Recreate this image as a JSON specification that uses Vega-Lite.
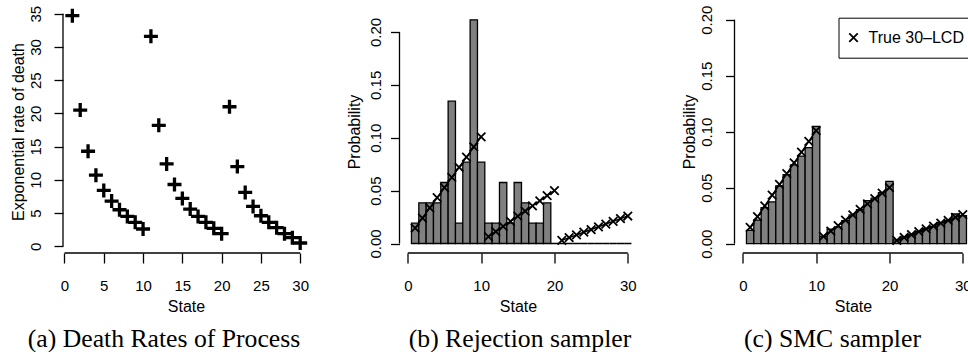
{
  "$schema": "https://vega.github.io/schema/vega-lite/v6.json",
  "background": "white",
  "padding": {"left": 9, "top": 2, "right": 0, "bottom": 0},
  "config": {
    "view": {"stroke": null},
    "axis": {"domain": false, "grid": false, "ticks": true, "tickColor": "black", "tickWidth": 1.3, "labelOverlap": false,
      "labelFont": "Liberation Sans", "labelFontSize": 15, "labelColor": "black",
      "titleFont": "Liberation Sans", "titleFontSize": 16, "titleFontWeight": "normal", "titleColor": "black"},
    "axisX": {"tickSize": 10, "labelPadding": 27.5, "labelBaseline": "alphabetic", "labelAngle": 0, "labelAlign": "center", "titleBaseline": "alphabetic", "titleY": 58},
    "axisY": {"tickSize": 9, "labelPadding": 12, "labelAngle": 270, "labelAlign": "center", "labelBaseline": "alphabetic", "titleAngle": 270, "titleBaseline": "alphabetic", "titleAlign": "center", "titleX": -40},
    "title": {"orient": "bottom", "frame": "group", "anchor": "middle", "font": "Liberation Serif", "fontSize": 25.7, "fontWeight": "normal", "color": "black", "baseline": "top", "offset": 13},
    "legend": {"labelFont": "Liberation Sans", "labelFontSize": 16, "labelColor": "black"}
  },
  "datasets": {
    "rates": [
      {"state": 1, "rate": 34.7}, {"state": 2, "rate": 20.5}, {"state": 3, "rate": 14.3}, {"state": 4, "rate": 10.7}, {"state": 5, "rate": 8.4},
      {"state": 6, "rate": 6.8}, {"state": 7, "rate": 5.5}, {"state": 8, "rate": 4.5}, {"state": 9, "rate": 3.6}, {"state": 10, "rate": 2.6},
      {"state": 11, "rate": 31.6}, {"state": 12, "rate": 18.2}, {"state": 13, "rate": 12.4}, {"state": 14, "rate": 9.3}, {"state": 15, "rate": 7.2},
      {"state": 16, "rate": 5.6}, {"state": 17, "rate": 4.5}, {"state": 18, "rate": 3.6}, {"state": 19, "rate": 2.7}, {"state": 20, "rate": 1.9},
      {"state": 21, "rate": 21.0}, {"state": 22, "rate": 12.0}, {"state": 23, "rate": 8.1}, {"state": 24, "rate": 6.0}, {"state": 25, "rate": 4.6},
      {"state": 26, "rate": 3.6}, {"state": 27, "rate": 2.8}, {"state": 28, "rate": 1.9}, {"state": 29, "rate": 1.3}, {"state": 30, "rate": 0.5}
    ],
    "reject": [
      {"state": 1, "lo": 0.5, "hi": 1.5, "p": 0.0192}, {"state": 2, "lo": 1.5, "hi": 2.5, "p": 0.0385}, {"state": 3, "lo": 2.5, "hi": 3.5, "p": 0.0385},
      {"state": 4, "lo": 3.5, "hi": 4.5, "p": 0.0385}, {"state": 5, "lo": 4.5, "hi": 5.5, "p": 0.0577}, {"state": 6, "lo": 5.5, "hi": 6.5, "p": 0.1346},
      {"state": 7, "lo": 6.5, "hi": 7.5, "p": 0.0192}, {"state": 8, "lo": 7.5, "hi": 8.5, "p": 0.0769}, {"state": 9, "lo": 8.5, "hi": 9.5, "p": 0.2115},
      {"state": 10, "lo": 9.5, "hi": 10.5, "p": 0.0769}, {"state": 11, "lo": 10.5, "hi": 11.5, "p": 0.0192}, {"state": 12, "lo": 11.5, "hi": 12.5, "p": 0.0192},
      {"state": 13, "lo": 12.5, "hi": 13.5, "p": 0.0577}, {"state": 14, "lo": 13.5, "hi": 14.5, "p": 0.0192}, {"state": 15, "lo": 14.5, "hi": 15.5, "p": 0.0577},
      {"state": 16, "lo": 15.5, "hi": 16.5, "p": 0.0385}, {"state": 17, "lo": 16.5, "hi": 17.5, "p": 0.0192}, {"state": 18, "lo": 17.5, "hi": 18.5, "p": 0.0192},
      {"state": 19, "lo": 18.5, "hi": 19.5, "p": 0.0385}, {"state": 20, "lo": 19.5, "hi": 20.5, "p": 0}, {"state": 21, "lo": 20.5, "hi": 21.5, "p": 0},
      {"state": 22, "lo": 21.5, "hi": 22.5, "p": 0}, {"state": 23, "lo": 22.5, "hi": 23.5, "p": 0}, {"state": 24, "lo": 23.5, "hi": 24.5, "p": 0},
      {"state": 25, "lo": 24.5, "hi": 25.5, "p": 0}, {"state": 26, "lo": 25.5, "hi": 26.5, "p": 0}, {"state": 27, "lo": 26.5, "hi": 27.5, "p": 0},
      {"state": 28, "lo": 27.5, "hi": 28.5, "p": 0}, {"state": 29, "lo": 28.5, "hi": 29.5, "p": 0}, {"state": 30, "lo": 29.5, "hi": 30.5, "p": 0}
    ],
    "smc": [
      {"state": 1, "lo": 0.5, "hi": 1.5, "p": 0.0119}, {"state": 2, "lo": 1.5, "hi": 2.5, "p": 0.0211}, {"state": 3, "lo": 2.5, "hi": 3.5, "p": 0.0322},
      {"state": 4, "lo": 3.5, "hi": 4.5, "p": 0.0373}, {"state": 5, "lo": 4.5, "hi": 5.5, "p": 0.0515}, {"state": 6, "lo": 5.5, "hi": 6.5, "p": 0.0616},
      {"state": 7, "lo": 6.5, "hi": 7.5, "p": 0.0704}, {"state": 8, "lo": 7.5, "hi": 8.5, "p": 0.0782}, {"state": 9, "lo": 8.5, "hi": 9.5, "p": 0.0858},
      {"state": 10, "lo": 9.5, "hi": 10.5, "p": 0.1047}, {"state": 11, "lo": 10.5, "hi": 11.5, "p": 0.0065}, {"state": 12, "lo": 11.5, "hi": 12.5, "p": 0.013},
      {"state": 13, "lo": 12.5, "hi": 13.5, "p": 0.015}, {"state": 14, "lo": 13.5, "hi": 14.5, "p": 0.0206}, {"state": 15, "lo": 14.5, "hi": 15.5, "p": 0.0258},
      {"state": 16, "lo": 15.5, "hi": 16.5, "p": 0.0303}, {"state": 17, "lo": 16.5, "hi": 17.5, "p": 0.0385}, {"state": 18, "lo": 17.5, "hi": 18.5, "p": 0.0407},
      {"state": 19, "lo": 18.5, "hi": 19.5, "p": 0.0455}, {"state": 20, "lo": 19.5, "hi": 20.5, "p": 0.0556}, {"state": 21, "lo": 20.5, "hi": 21.5, "p": 0.0035},
      {"state": 22, "lo": 21.5, "hi": 22.5, "p": 0.006}, {"state": 23, "lo": 22.5, "hi": 23.5, "p": 0.008}, {"state": 24, "lo": 23.5, "hi": 24.5, "p": 0.011},
      {"state": 25, "lo": 24.5, "hi": 25.5, "p": 0.0134}, {"state": 26, "lo": 25.5, "hi": 26.5, "p": 0.0152}, {"state": 27, "lo": 26.5, "hi": 27.5, "p": 0.0188},
      {"state": 28, "lo": 27.5, "hi": 28.5, "p": 0.0205}, {"state": 29, "lo": 28.5, "hi": 29.5, "p": 0.0265}, {"state": 30, "lo": 29.5, "hi": 30.5, "p": 0.025}
    ],
    "lcd": [
      {"state": 1, "grp": 1, "p": 0.0145}, {"state": 2, "grp": 1, "p": 0.0241}, {"state": 3, "grp": 1, "p": 0.0337}, {"state": 4, "grp": 1, "p": 0.0433},
      {"state": 5, "grp": 1, "p": 0.0529}, {"state": 6, "grp": 1, "p": 0.0625}, {"state": 7, "grp": 1, "p": 0.0721}, {"state": 8, "grp": 1, "p": 0.0817},
      {"state": 9, "grp": 1, "p": 0.0913}, {"state": 10, "grp": 1, "p": 0.1009},
      {"state": 11, "grp": 2, "p": 0.0065}, {"state": 12, "grp": 2, "p": 0.0113}, {"state": 13, "grp": 2, "p": 0.0162}, {"state": 14, "grp": 2, "p": 0.021},
      {"state": 15, "grp": 2, "p": 0.0258}, {"state": 16, "grp": 2, "p": 0.0307}, {"state": 17, "grp": 2, "p": 0.0355}, {"state": 18, "grp": 2, "p": 0.0403},
      {"state": 19, "grp": 2, "p": 0.0452}, {"state": 20, "grp": 2, "p": 0.05},
      {"state": 21, "grp": 3, "p": 0.003}, {"state": 22, "grp": 3, "p": 0.0056}, {"state": 23, "grp": 3, "p": 0.0081}, {"state": 24, "grp": 3, "p": 0.0107},
      {"state": 25, "grp": 3, "p": 0.0132}, {"state": 26, "grp": 3, "p": 0.0158}, {"state": 27, "grp": 3, "p": 0.0184}, {"state": 28, "grp": 3, "p": 0.0209},
      {"state": 29, "grp": 3, "p": 0.0235}, {"state": 30, "grp": 3, "p": 0.026}
    ]
  },
  "bounds": "flush",
  "spacing": 90.5,
  "hconcat": [
    {
      "width": 246, "height": 243,
      "title": {"text": "(a) Death Rates of Process", "dx": -22},
      "layer": [
        {
          "data": {"name": "rates"},
          "mark": {"type": "point", "shape": "M-1,0L1,0M0,-1L0,1", "filled": false, "size": 196, "strokeWidth": 3.3, "color": "black", "opacity": 1, "strokeCap": "butt"},
          "encoding": {
            "x": {"field": "state", "type": "quantitative", "scale": {"domain": [-0.19, 31.12], "nice": false, "zero": false}, "axis": {"values": [0, 5, 10, 15, 20, 25, 30], "title": "State"}},
            "y": {"field": "rate", "type": "quantitative", "scale": {"domain": [-1.008, 35.555], "nice": false, "zero": false}, "axis": {"values": [0, 5, 10, 15, 20, 25, 30, 35], "title": "Exponential rate of death", "labelPadding": 14, "labelOverlap": false}}
          }
        },
        {
          "data": {"values": [{}]},
          "mark": {"type": "rule", "color": "black", "strokeWidth": 1.3},
          "encoding": {
            "x": {"datum": 0, "axis": {"values": [0, 5, 10, 15, 20, 25, 30], "title": "State"}},
            "x2": {"datum": 30},
            "y": {"datum": -1.008, "axis": {"values": [0, 5, 10, 15, 20, 25, 30, 35], "title": "Exponential rate of death", "labelPadding": 14, "labelOverlap": false}}
          }
        },
        {
          "data": {"values": [{}]},
          "mark": {"type": "rule", "color": "black", "strokeWidth": 1.3},
          "encoding": {
            "x": {"datum": -0.19, "axis": {"values": [0, 5, 10, 15, 20, 25, 30], "title": "State"}},
            "y": {"datum": 0, "axis": {"values": [0, 5, 10, 15, 20, 25, 30, 35], "title": "Exponential rate of death", "labelPadding": 14, "labelOverlap": false}},
            "y2": {"datum": 35}
          }
        }
      ]
    },
    {
      "bounds": "flush",
      "spacing": 98,
      "hconcat": [
        {
          "width": 237, "height": 243,
          "title": {"text": "(b) Rejection sampler", "dx": 2},
          "layer": [
            {
              "data": {"name": "reject"},
              "mark": {"type": "bar", "fill": "#808080", "stroke": "black", "strokeWidth": 1.3, "fillOpacity": 1},
              "encoding": {
                "x": {"field": "lo", "type": "quantitative", "scale": {"domain": [-1.132, 31.186], "nice": false, "zero": false}, "axis": {"values": [0, 5, 10, 15, 20, 25, 30], "title": "State"}},
                "x2": {"field": "hi"},
                "y": {"field": "p", "type": "quantitative", "scale": {"domain": [-0.00898, 0.2208], "nice": false, "zero": false}, "axis": {"values": [0, 0.05, 0.1, 0.15, 0.2], "format": ".2f", "title": "Probability", "labelPadding": 10}},
                "y2": {"datum": 0}
              }
            },
            {
              "data": {"name": "lcd"},
              "mark": {"type": "line", "color": "black", "strokeWidth": 1.5},
              "encoding": {"x": {"field": "state", "type": "quantitative"}, "y": {"field": "p", "type": "quantitative"}, "detail": {"field": "grp"}}
            },
            {
              "data": {"name": "lcd"},
              "mark": {"type": "point", "shape": "M-1,-1L1,1M-1,1L1,-1", "filled": false, "size": 72, "strokeWidth": 1.8, "color": "black", "opacity": 1},
              "encoding": {"x": {"field": "state", "type": "quantitative"}, "y": {"field": "p", "type": "quantitative"}}
            },
            {
              "data": {"values": [{}]},
              "mark": {"type": "rule", "color": "black", "strokeWidth": 1.3},
              "encoding": {"x": {"datum": 0}, "x2": {"datum": 30}, "y": {"datum": -0.00898}}
            },
            {
              "data": {"values": [{}]},
              "mark": {"type": "rule", "color": "black", "strokeWidth": 1.3},
              "encoding": {"x": {"datum": -1.132}, "y": {"datum": 0}, "y2": {"datum": 0.2}}
            }
          ]
        },
        {
          "width": 237, "height": 243,
          "title": {"text": "(c) SMC sampler", "dx": -20.5},
          "layer": [
            {
              "data": {"name": "smc"},
              "mark": {"type": "bar", "fill": "#808080", "stroke": "black", "strokeWidth": 1.3, "fillOpacity": 1},
              "encoding": {
                "x": {"field": "lo", "type": "quantitative", "scale": {"domain": [-1.132, 31.186], "nice": false, "zero": false}, "axis": {"values": [0, 5, 10, 15, 20, 25, 30], "title": "State"}},
                "x2": {"field": "hi"},
                "y": {"field": "p", "type": "quantitative", "scale": {"domain": [-0.0083, 0.20866], "nice": false, "zero": false}, "axis": {"values": [0, 0.05, 0.1, 0.15, 0.2], "format": ".2f", "title": "Probability", "labelPadding": 14}},
                "y2": {"datum": 0}
              }
            },
            {
              "data": {"name": "lcd"},
              "mark": {"type": "line", "color": "black", "strokeWidth": 1.5},
              "encoding": {"x": {"field": "state", "type": "quantitative"}, "y": {"field": "p", "type": "quantitative"}, "detail": {"field": "grp"}}
            },
            {
              "data": {"name": "lcd"},
              "mark": {"type": "point", "filled": false, "size": 72, "strokeWidth": 1.8, "color": "black", "opacity": 1},
              "encoding": {
                "x": {"field": "state", "type": "quantitative"},
                "y": {"field": "p", "type": "quantitative"},
                "shape": {"datum": "True 30–LCD", "type": "nominal", "scale": {"range": ["M-1,-1L1,1M-1,1L1,-1"]},
                  "legend": {"title": null, "orient": "none", "legendX": 775.5, "legendY": 7.7, "strokeColor": "black", "fillColor": "white", "padding": 12, "symbolOffset": -5, "labelOffset": 7, "symbolSize": 72, "symbolStrokeWidth": 1.8, "symbolStrokeColor": "black", "symbolFillColor": "transparent", "cornerRadius": 0, "labelExpr": "datum.label + '   '"}}
              }
            },
            {
              "data": {"values": [{}]},
              "mark": {"type": "rule", "color": "black", "strokeWidth": 1.3},
              "encoding": {"x": {"datum": 0}, "x2": {"datum": 30}, "y": {"datum": -0.0083}}
            },
            {
              "data": {"values": [{}]},
              "mark": {"type": "rule", "color": "black", "strokeWidth": 1.3},
              "encoding": {"x": {"datum": -1.132}, "y": {"datum": 0}, "y2": {"datum": 0.2}}
            }
          ]
        }
      ]
    }
  ]
}
